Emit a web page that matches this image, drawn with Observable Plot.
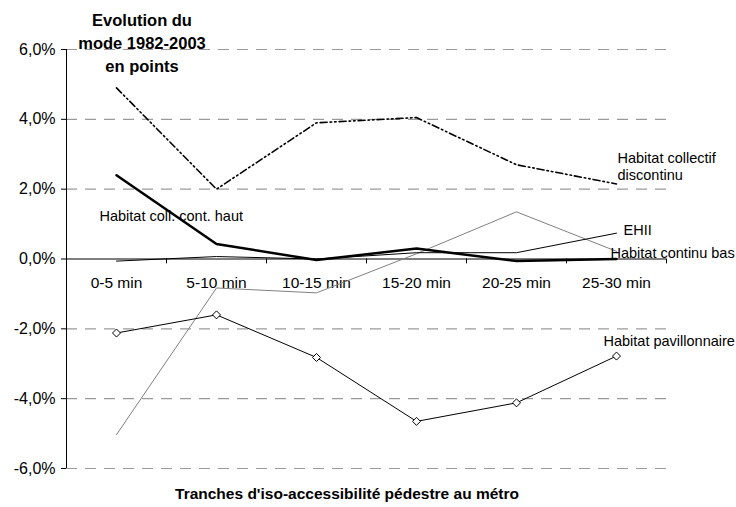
<!DOCTYPE html>
<html>
<head>
<meta charset="utf-8">
<script src="https://cdn.jsdelivr.net/npm/d3@7"></script>
<script src="https://cdn.jsdelivr.net/npm/@observablehq/plot@0.6"></script>
<style>
  html, body { margin: 0; padding: 0; background: #fff; }
  #wrap { position: relative; width: 736px; height: 507px; font-family: "Liberation Sans", Arial, sans-serif; }
  .ttl { position: absolute; font-weight: bold; font-size: 16.5px; color: #000; text-align: center; line-height: 23px; transform: translate(-50%, 0); white-space: nowrap; }
  .xttl { position: absolute; font-weight: bold; font-size: 15.5px; color: #000; transform: translate(-50%, -50%); white-space: nowrap; }
</style>
</head>
<body>
<div id="wrap">
  <div id="chart"></div>
  <div class="ttl" style="left:142px; top:9px;">Evolution du<br>mode 1982-2003<br>en points</div>
  <div class="xttl" style="left:347px; top:494px;">Tranches d'iso-accessibilité pédestre au métro</div>
</div>
<script>
const categories = ["0-5 min", "5-10 min", "10-15 min", "15-20 min", "20-25 min", "25-30 min"];
const collectifDiscontinu = [4.9, 2.0, 3.9, 4.05, 2.7, 2.15];
const collContHaut = [2.4, 0.43, -0.03, 0.3, -0.06, 0.0];
const ehii = [-0.06, 0.07, 0.0, 0.18, 0.18, 0.74];
const continuBas = [-5.03, -0.83, -0.97, 0.15, 1.35, 0.22];
const pavillonnaire = [-2.12, -1.6, -2.82, -4.65, -4.12, -2.78];
const yTicks = [-6, -4, -2, 0, 2, 4, 6];
const gridTicks = [-6, -4, -2, 2, 4, 6];

const series = [
  {name: "Habitat collectif discontinu", values: collectifDiscontinu},
  {name: "Habitat coll. cont. haut", values: collContHaut},
  {name: "EHII", values: ehii},
  {name: "Habitat continu bas", values: continuBas},
  {name: "Habitat pavillonnaire", values: pavillonnaire}
];
const rows = series.flatMap(s => s.values.map((v, i) => ({series: s.name, cat: categories[i], i: i + 0.5, v})));
const of = name => rows.filter(d => d.series === name);

const labels = [
  {text: "Habitat collectif\ndiscontinu", series: "Habitat collectif discontinu", idx: 5, dx: 1, dy: -18},
  {text: "Habitat coll. cont. haut", series: "Habitat coll. cont. haut", idx: 0, dx: -17, dy: 40},
  {text: "EHII", series: "EHII", idx: 5, dx: 7, dy: -4},
  {text: "Habitat continu bas", series: "Habitat continu bas", idx: 5, dx: -6, dy: 1},
  {text: "Habitat pavillonnaire", series: "Habitat pavillonnaire", idx: 5, dx: -13, dy: -15}
];
const labelRows = labels.map(l => {
  const r = of(l.series)[l.idx];
  return {...l, i: r.i, v: r.v};
});

const fmt = d => d.toFixed(1).replace(".", ",") + "%";

const chart = Plot.plot({
  width: 736,
  height: 507,
  marginLeft: 66,
  marginRight: 70,
  marginTop: 49,
  marginBottom: 39,
  style: {fontFamily: "'Liberation Sans', Arial, sans-serif", fontSize: "15px", background: "#fff", color: "#000"},
  x: {domain: [0, 6], axis: null},
  y: {domain: [-6, 6], axis: null},
  marks: [
    Plot.ruleY(gridTicks, {stroke: "#9a9a9a", strokeWidth: 1.2, strokeDasharray: "11,8"}),
    Plot.axisY({ticks: yTicks, tickFormat: fmt, tickSize: 5, tickPadding: 6, label: null, fontSize: 16}),
    Plot.ruleX([0], {y1: -6, y2: 6, stroke: "#000"}),
    Plot.ruleY([0], {stroke: "#000"}),
    Plot.ruleX(d3.range(1, 7), {y1: 0, y2: -0.14, stroke: "#000"}),
    Plot.text(categories, {x: (d, i) => i + 0.5, y: () => 0, text: d => d, dy: 24, fontSize: 15.5, fill: "#000"}),
    Plot.line(of("Habitat continu bas"), {x: "i", y: "v", stroke: "#808080", strokeWidth: 1}),
    Plot.line(of("EHII"), {x: "i", y: "v", stroke: "#000", strokeWidth: 1}),
    Plot.line(of("Habitat coll. cont. haut"), {x: "i", y: "v", stroke: "#000", strokeWidth: 2.5}),
    Plot.line(of("Habitat collectif discontinu"), {x: "i", y: "v", stroke: "#000", strokeWidth: 1.6, strokeDasharray: "7,3,1.5,3,1.5,3"}),
    Plot.line(of("Habitat pavillonnaire"), {x: "i", y: "v", stroke: "#000", strokeWidth: 1}),
    Plot.dot(of("Habitat pavillonnaire"), {x: "i", y: "v", symbol: "diamond2", r: 3.6, fill: "#fff", stroke: "#000", strokeWidth: 1}),
    ...labelRows.map(l => Plot.text([l], {x: "i", y: "v", text: "text", dx: l.dx, dy: l.dy, textAnchor: "start", fontSize: 14.5, fill: "#000", lineHeight: 1.15}))
  ]
});
document.getElementById("chart").appendChild(chart);
</script>
</body>
</html>
